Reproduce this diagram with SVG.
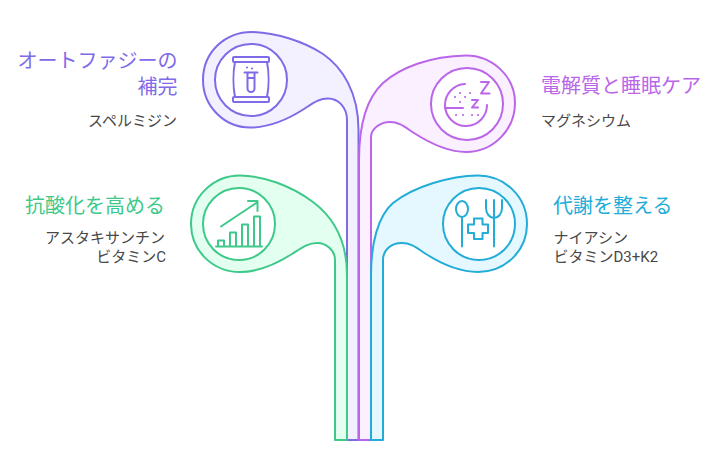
<svg xmlns="http://www.w3.org/2000/svg" width="716" height="463" viewBox="0 0 716 463">
<style>
.b{stroke-width:2;stroke-linejoin:round;stroke-linecap:round}
.i{fill:none;stroke-width:2;stroke-linejoin:round;stroke-linecap:round}
.c{fill:#fff;stroke-width:2}
.t{font-family:"Roboto","Noto Sans CJK JP",sans-serif;font-size:20px}
.s{font-family:"Roboto","Noto Sans CJK JP",sans-serif;font-size:15px;fill:#484848}
.e{text-anchor:end}
.pu{stroke:#7f6ae8}.pk{stroke:#bb66e8}.gr{stroke:#3ec98a}.bl{stroke:#22acd8}
</style>
<g id="connectors">
<path class="b pu" fill="#f3f0ff" d="M347 440V120C347 107 338 98.500 328 98.500C318 98.500 312 104 304 109C290 118 270 127.500 250 127.500C224 127.500 203 106 203 80C203 52 225 32 252 32C275 32.500 303 41 323 54C342 67 358.500 92 358.500 130V440Z"/>
<path class="b pk" fill="#faf0ff" d="M371 440V137C371 129 380 122 390 122C400 122 406 128 414 133C428 142 446 152 466 152C493 152 515 130 515 103C515 76 492 55.500 466 55.500C430 56 400 68 383 83C368 97 359 120 359 160V440Z"/>
<path class="b gr" fill="#e3fff0" d="M335 440V260C335 250 326 243 317 243C307 243 300 249 292 254C278 263 260 272 240 272C213 272 191 251 191 224C191 197 213 175.500 240 175.500C263 176 290 185 313 202C333 217 347 240 347 275V440Z"/>
<path class="b bl" fill="#e6f8ff" d="M383 440V260C383 250 391 243 402 243C412 243 418 249 426 254C440 263 458 272 478 272C505 272 527 251 527 224C527 197 505 175.500 478 175.500C450 176 415 186 393 203C378 216 371 243 371 275V440Z"/>
</g>
<g id="node-autophagy">
<circle class="c pu" cx="251" cy="80" r="36"/>
<g class="i pu">
<rect x="233" y="57" width="36" height="5" rx="1"/>
<rect x="233" y="97" width="36" height="5" rx="1"/>
<path d="M235 62C233 72 233 87 235 97M267 62C269 72 269 87 267 97"/>
<path d="M244.500 72.500H257.500M247.500 73V88.500A3.500 3.500 0 0 0 254.500 88.500V73M248 78H254"/>
<path d="M247 67.500h.1M252 68.500h.1"/>
</g>
<text class="t e" x="177.500" y="68" fill="#7f6ae8">オートファジーの</text>
<text class="t e" x="177.500" y="94" fill="#7f6ae8">補完</text>
<text class="s e" x="177" y="126">スペルミジン</text>
</g>
<g id="node-sleep">
<circle class="c pk" cx="467" cy="104" r="36"/>
<g class="i pk">
<path d="M465 84A21 21 0 1 0 487 105"/>
<path d="M445 108H463"/>
<path d="M481 82H489L481 93.500H489.500"/>
<path d="M472 100H478L472 107.500H478"/>
<path d="M455 97h.1M465 97h.1M460 102h.1M460 93h.1M470 93h.1M456 115h.1M463 115h.1M472 115h.1M478 115h.1"/>
</g>
<text class="t" x="541" y="93" fill="#bb66e8">電解質と睡眠ケア</text>
<text class="s" x="541" y="126">マグネシウム</text>
</g>
<g id="node-antioxidant">
<circle class="c gr" cx="239" cy="224" r="36"/>
<g class="i gr">
<path d="M216 246.500H262"/>
<path d="M218 246V240.500H224V246M230 246V232.500H236V246M242 246V224.500H248V246M254 246V216.500H260V246"/>
<path d="M221 226.500L257 202.500M248 201H257.500V211"/>
</g>
<text class="t" x="25" y="213" fill="#3ec98a">抗酸化を高める</text>
<text class="s e" x="165" y="243">アスタキサンチン</text>
<text class="s e" x="166" y="262">ビタミンC</text>
</g>
<g id="node-metabolism">
<circle class="c bl" cx="479" cy="224" r="36"/>
<g class="i bl">
<ellipse cx="462" cy="209" rx="6" ry="8"/>
<path d="M462 217V246.500"/>
<path d="M486 200V208C486 214 490 218 494 218C498 218 502 214 502 208V200M494 200V246.500"/>
<path d="M474 218.500H482.500V224.500H488V233H482.500V239H474V233H468V224.500H474Z"/>
</g>
<text class="t" x="553" y="213" fill="#22acd8">代謝を整える</text>
<text class="s" x="553.500" y="243">ナイアシン</text>
<text class="s" x="553.500" y="262">ビタミンD3+K2</text>
</g>
</svg>
